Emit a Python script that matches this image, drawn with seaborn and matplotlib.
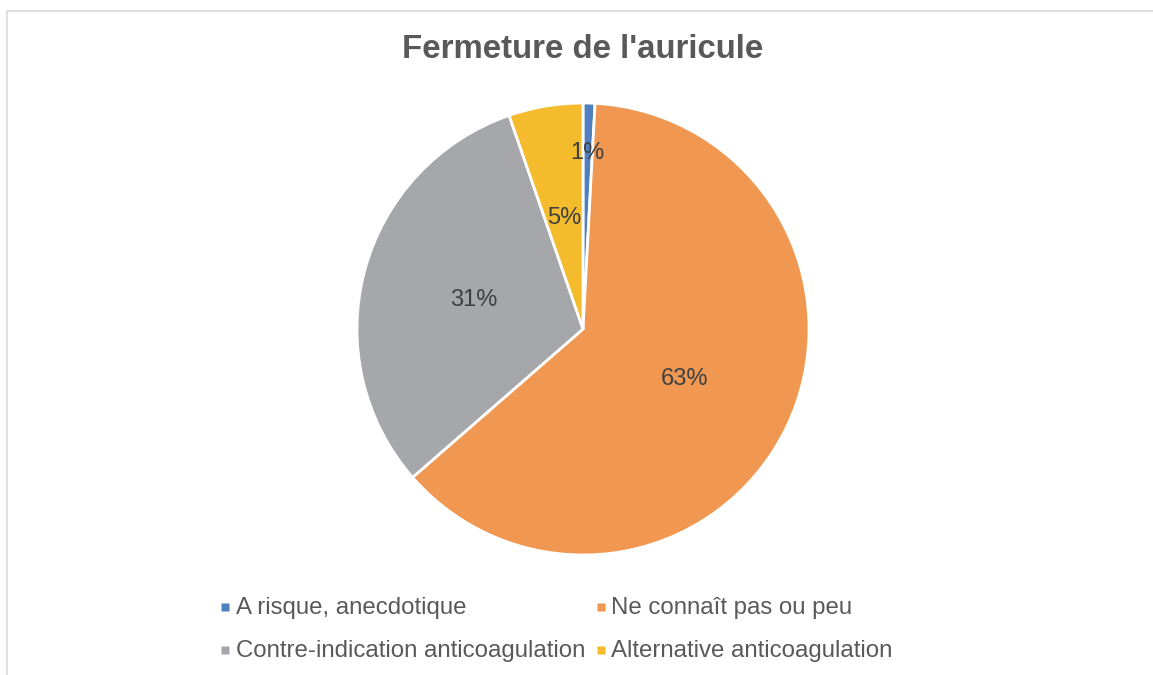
import numpy as np
import matplotlib
matplotlib.use("Agg")
import matplotlib.pyplot as plt
import seaborn as sns
from matplotlib.lines import Line2D

categories = ["A risque, anecdotique", "Ne connaît pas ou peu",
              "Contre-indication anticoagulation", "Alternative anticoagulation"]
values = [0.85, 62.75, 31.1, 5.3]
colors = ["#4F7FBE", "#F09852", "#A6A7AA", "#F4BB2D"]
title = "Fermeture de l'auricule"

sns.set_theme(style="white")
plt.rcParams['font.family'] = ['Liberation Sans', 'DejaVu Sans']

fig = plt.figure(figsize=(11.53, 6.75), dpi=100)
fig.patch.set_facecolor("white")

# frame lines
fig.add_artist(Line2D([7/1153, 1.0], [1-11/675, 1-11/675], color="#D9D9D9", lw=1.2))
fig.add_artist(Line2D([7/1153, 7/1153], [0, 1-11/675], color="#D9D9D9", lw=1.2))

cx, cy, r = 583, 329, 226
ax = fig.add_axes([(cx-r)/1153, (675-cy-r)/675, 2*r/1153, 2*r/675])
wedges, texts, autotexts = ax.pie(values, colors=colors, startangle=90, counterclock=False,
                                  autopct='%1.0f%%', pctdistance=0.5,
                                  wedgeprops=dict(edgecolor="white", linewidth=2),
                                  textprops=dict(fontsize=17, color="#404040"))
ax.set_xlim(-1, 1); ax.set_ylim(-1, 1)
# move small slice label outward
w = wedges[0]
ang = np.deg2rad((w.theta1 + w.theta2) / 2)
autotexts[0].set_position((0.78*np.cos(ang), 0.78*np.sin(ang)))

fig.text(0.505, 1-49.5/675, title, ha="center", va="center", fontsize=23.8,
         fontweight="bold", color="#595959")

order = [0, 2, 1, 3]
handles = [Line2D([], [], marker="s", linestyle="none", markersize=5.2,
                  markerfacecolor=colors[i], markeredgecolor="none") for i in order]
labs = [categories[i] for i in order]
leg = fig.legend(handles, labs, ncol=2, loc="center", bbox_to_anchor=(0.483, 1-629.5/675),
                 frameon=False, fontsize=17.3, handlelength=0.3, handleheight=0.3,
                 handletextpad=0.3, columnspacing=0.5, labelspacing=0.85,
                 labelcolor="#595959", borderpad=0)

fig.savefig("out.png", dpi=100, facecolor="white")
